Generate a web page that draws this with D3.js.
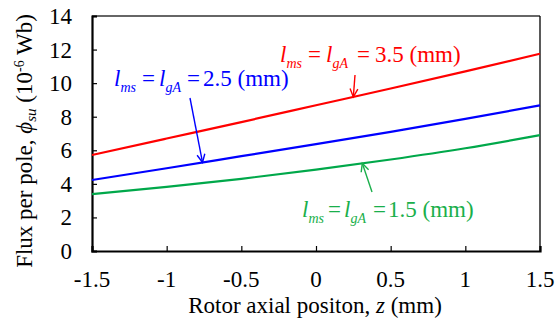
<!DOCTYPE html>
<html>

<head>
    <meta charset="utf-8">
    <script src="https://d3js.org/d3.v7.min.js"></script>
    <title>flux per pole</title>
    <style>
        body {
            margin: 0;
            background: #fff;
        }
    </style>
</head>

<body>
    <div id="chart-container"></div>

    <script>
        // data
        const zValues = [-1.5, -1, -0.5, 0, 0.5, 1, 1.5];
        const flux35 = [5.72, 6.7, 7.68, 8.68, 9.68, 10.7, 11.75];
        const flux25 = [4.23, 4.93, 5.65, 6.37, 7.1, 7.87, 8.68];
        const flux15 = [3.39, 3.82, 4.3, 4.85, 5.45, 6.12, 6.9];
        const xTicks = [-1.5, -1, -0.5, 0, 0.5, 1, 1.5];
        const yTicks = [0, 2, 4, 6, 8, 10, 12, 14];

        const serif = "'Liberation Serif', 'Times New Roman', Times, serif";

        function createChart() {
            const width = 556;
            const height = 320;
            const margin = { top: 16, right: 16, bottom: 69, left: 92 };

            const svg = d3.create("svg")
                .attr("width", width)
                .attr("height", height)
                .style("font-family", serif);

            const x = d3.scaleLinear()
                .domain([-1.5, 1.5])
                .range([margin.left, width - margin.right]);

            const y = d3.scaleLinear()
                .domain([0, 14])
                .range([height - margin.bottom, margin.top]);

            // frame (top / right thinner)
            svg.append("line")
                .attr("x1", x(-1.5)).attr("x2", x(1.5))
                .attr("y1", y(14)).attr("y2", y(14))
                .attr("stroke", "#333").attr("stroke-width", 1.3);
            svg.append("line")
                .attr("x1", x(1.5)).attr("x2", x(1.5))
                .attr("y1", y(14)).attr("y2", y(0))
                .attr("stroke", "#000").attr("stroke-width", 1.3);

            const fontSize = 23;

            // y axis, ticks pointing inside
            const yAxis = svg.append("g")
                .attr("transform", `translate(${margin.left},0)`)
                .call(d3.axisRight(y).tickValues(yTicks).tickSize(5).tickFormat(""));
            yAxis.select(".domain").attr("stroke-width", 2.2);
            yAxis.selectAll(".tick line").attr("stroke-width", 1.2);

            svg.selectAll(".ylab")
                .data(yTicks)
                .join("text")
                .attr("class", "ylab")
                .attr("x", 72)
                .attr("y", d => y(d) + 8)
                .attr("text-anchor", "end")
                .attr("font-size", fontSize)
                .style("font-family", serif)
                .text(d => d);

            // x axis, ticks pointing up
            const xAxis = svg.append("g")
                .attr("transform", `translate(0,${y(0)})`)
                .call(d3.axisTop(x).tickValues(xTicks).tickSize(5).tickFormat(""));
            xAxis.select(".domain").attr("stroke-width", 2.2);
            xAxis.selectAll(".tick line").attr("stroke-width", 1.2);

            svg.selectAll(".xlab")
                .data(xTicks)
                .join("text")
                .attr("class", "xlab")
                .attr("x", d => x(d))
                .attr("y", 287)
                .attr("text-anchor", "middle")
                .attr("font-size", fontSize)
                .style("font-family", serif)
                .text(d => d);

            // axis titles
            const xt = svg.append("text")
                .attr("x", 315)
                .attr("y", 313)
                .attr("text-anchor", "middle")
                .attr("font-size", fontSize)
                .style("font-family", serif);
            xt.append("tspan").text("Rotor axial positon, ");
            xt.append("tspan").attr("font-style", "italic").text("z");
            xt.append("tspan").text(" (mm)");

            const yt = svg.append("text")
                .attr("transform", `translate(32,${141}) rotate(-90)`)
                .attr("text-anchor", "middle")
                .attr("font-size", fontSize)
                .style("font-family", serif);
            yt.append("tspan").text("Flux per pole, ");
            yt.append("tspan").attr("font-style", "italic").text("\u03d5");
            yt.append("tspan").attr("font-style", "italic").attr("font-size", 15).attr("dy", 4).text("su");
            yt.append("tspan").attr("dy", -4).text(" (10");
            yt.append("tspan").attr("font-size", 14).attr("dy", -8).text("-6");
            yt.append("tspan").attr("dy", 8).text(" Wb)");

            // curves
            const series = [
                { values: flux35, color: "#ff0000" },
                { values: flux25, color: "#0000ff" },
                { values: flux15, color: "#00a84a" }
            ];

            const line = d3.line()
                .x((d, i) => x(zValues[i]))
                .y(d => y(d))
                .curve(d3.curveMonotoneX);

            svg.selectAll(".curve")
                .data(series)
                .join("path")
                .attr("class", "curve")
                .attr("d", d => line(d.values))
                .attr("fill", "none")
                .attr("stroke", d => d.color)
                .attr("stroke-width", 2.2);

            // annotations: label + arrow  (off = x offsets of "=", "l", "=", number)
            const notes = [
                { label: "3.5", color: "#ff0000", tx: 280, ty: 62, off: [28, 46, 77, 95], from: [355, 75], z: 0.25, s: flux35 },
                { label: "2.5", color: "#0000ff", tx: 114, ty: 86, off: [28, 45, 73, 89], from: [190, 98], z: -0.76, s: flux25 },
                { label: "1.5", color: "#1aaf4b", tx: 302, ty: 217, off: [26, 42, 71, 86], from: [372, 192], z: 0.31, s: flux15 }
            ];

            notes.forEach(n => {
                const t = svg.append("text")
                    .attr("y", n.ty)
                    .attr("font-size", fontSize)
                    .attr("fill", n.color)
                    .style("font-family", serif);
                t.append("tspan").attr("x", n.tx).attr("font-style", "italic").text("l");
                t.append("tspan").attr("font-style", "italic").attr("font-size", 14).attr("dy", 6).text("ms");
                t.append("tspan").attr("x", n.tx + n.off[0]).attr("dy", -6).text("=");
                t.append("tspan").attr("x", n.tx + n.off[1]).attr("font-style", "italic").text("l");
                t.append("tspan").attr("font-style", "italic").attr("font-size", 14).attr("dy", 6).text("gA");
                t.append("tspan").attr("x", n.tx + n.off[2]).attr("dy", -6).text("=");
                t.append("tspan").attr("x", n.tx + n.off[3]).text(n.label + " (mm)");

                // arrow tip on the curve
                const tipX = x(n.z);
                const tipY = y(interp(n.s, n.z));
                const ang = Math.atan2(tipY - n.from[1], tipX - n.from[0]);
                const hl = 9, ha = 0.45;
                const g = svg.append("g")
                    .attr("stroke", n.color)
                    .attr("stroke-width", 1.4)
                    .attr("fill", "none");
                g.append("line")
                    .attr("x1", n.from[0]).attr("y1", n.from[1])
                    .attr("x2", tipX).attr("y2", tipY);
                g.append("path")
                    .attr("d", `M${tipX - hl * Math.cos(ang - ha)},${tipY - hl * Math.sin(ang - ha)}L${tipX},${tipY}L${tipX - hl * Math.cos(ang + ha)},${tipY - hl * Math.sin(ang + ha)}`);
            });

            function interp(vals, z) {
                const i = Math.min(zValues.length - 2, Math.max(0, d3.bisectRight(zValues, z) - 1));
                const f = (z - zValues[i]) / (zValues[i + 1] - zValues[i]);
                return vals[i] + f * (vals[i + 1] - vals[i]);
            }

            return svg.node();
        }

        document.getElementById("chart-container").appendChild(createChart());
    </script>

</body>

</html>
